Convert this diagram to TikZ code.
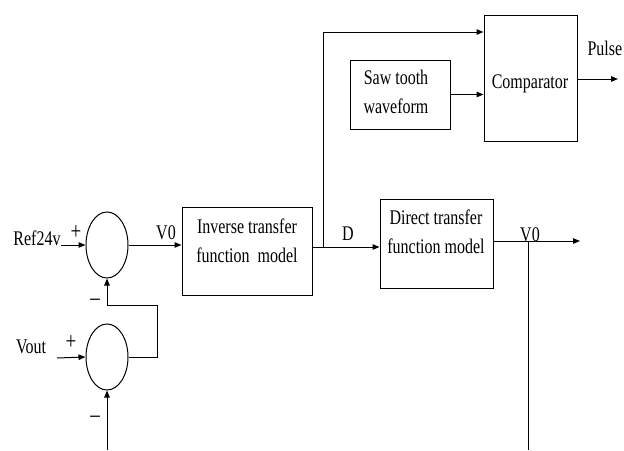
\documentclass[tikz,border=0pt]{standalone}
\usepackage{fontspec}
\setmainfont{Liberation Serif}
\usepackage{graphicx}
\usetikzlibrary{shapes.geometric,arrows.meta}
\newcommand\vtxt[1]{\scalebox{1}[1.3]{\begin{tabular}{@{}c@{}}#1\end{tabular}}}
\begin{document}
\begin{tikzpicture}[x=1pt,y=-1pt,
  line width=1pt,
  every node/.style={font=\fontsize{16}{22}\selectfont},
  sumnode/.style={draw,ellipse,minimum width=42pt,minimum height=66pt,inner sep=0pt},
  blockbox/.style={draw,rectangle,inner sep=0pt},
  lbl/.style={inner sep=0pt},
  sign/.style={inner sep=0pt,font=\fontsize{19}{22}\selectfont},
  arr/.style={-{Triangle[length=7pt,width=5.5pt]}}]
\useasboundingbox (0,0) rectangle (624,450);
% summing junctions
\node[sumnode] (s1) at (107,245) {};
\node[sumnode] (s2) at (107,357) {};
% blocks
\node[blockbox,minimum width=130pt,minimum height=88pt] (inv) at (247,251) {};
\node[lbl] (invt) at (247,242) {\vtxt{Inverse transfer\\function\ \ model}};
\node[blockbox,minimum width=113pt,minimum height=89pt] (dir) at (436.5,243.5) {};
\node[lbl] (dirt) at (436,233) {\vtxt{Direct transfer\\function model}};
\node[blockbox,minimum width=100pt,minimum height=69pt] (saw) at (400,94.5) {};
\node[lbl] (sawt) at (396,93) {\vtxt{Saw tooth\\waveform}};
\node[blockbox,minimum width=93pt,minimum height=126pt] (comp) at (530.5,78) {};
\node[lbl] (compt) at (530,83) {\vtxt{Comparator}};
% labels
\node[lbl] (ref) at (37,240) {\vtxt{Ref24v}};
\node[sign] (p1) at (76,234) {\vtxt{+}};
\node[lbl] (vout) at (31,348) {\vtxt{Vout}};
\node[sign] (p2) at (71,344) {\vtxt{+}};
\node[sign] (m1) at (95,300) {\vtxt{\textendash}};
\node[sign] (m2) at (95,417) {\vtxt{\textendash}};
\node[lbl] (v0a) at (166,234) {\vtxt{V0}};
\node[lbl] (dl) at (348,235) {\vtxt{D}};
\node[lbl] (v0b) at (530,236) {\vtxt{V0}};
\node[lbl,anchor=west] (pulse) at (587,50) {\vtxt{Pulse}};
% coordinates
\coordinate (refin) at (61,245);
\coordinate (voutin) at (57,358);
\coordinate (bot) at (107,450);
\coordinate (j) at (323,247);
\coordinate (top) at (323,32);
\coordinate (pout) at (618,79);
\coordinate (vout2) at (580,241);
\coordinate (tap) at (528,241);
\coordinate (tapbot) at (528,450);
\coordinate (fb) at (157,305);
% connectors
\draw[arr] (refin) -- (s1.west);
\draw[arr] (s1.east) -- (s1.east -| inv.west);
\draw[arr] (voutin) -- (s2.west);
\draw[arr] (s2.east) -| (fb) -| (s1.south);
\draw[arr] (bot) -- (s2.south);
\draw[arr] (inv.east |- j) -- (dir.west |- j);
\draw[arr] (j) -- (top) -- (top -| comp.west);
\draw[arr] (saw.east) -- (saw.east -| comp.west);
\draw[arr] (comp.east |- pout) -- (pout);
\draw[arr] (dir.east |- vout2) -- (vout2);
\draw (tap) -- (tapbot);
\end{tikzpicture}
\end{document}
